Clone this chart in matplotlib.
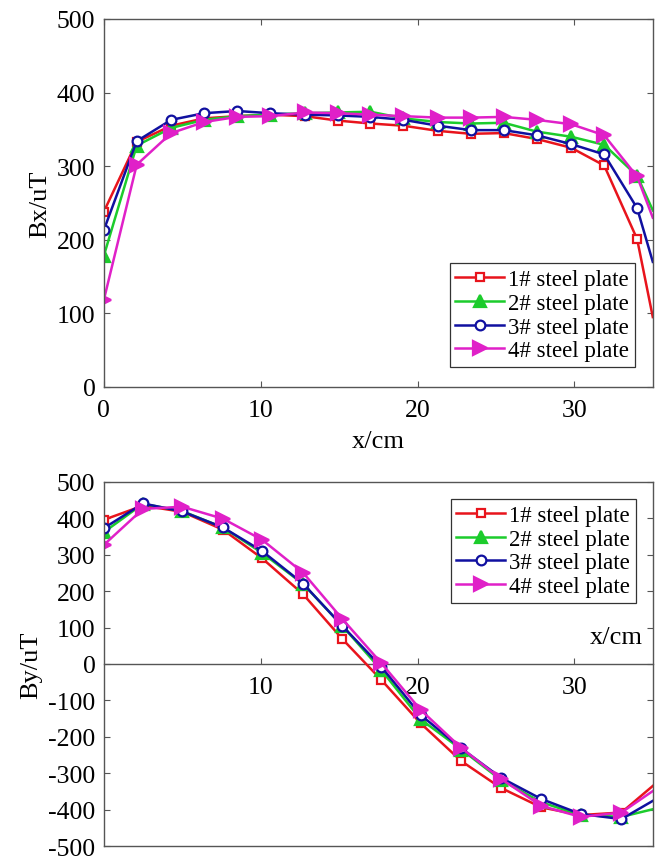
import numpy as np
import matplotlib
matplotlib.use('Agg')
import matplotlib.pyplot as plt

plt.rcParams['font.family'] = ['Liberation Serif', 'DejaVu Serif']
plt.rcParams['axes.unicode_minus'] = False

labels = ['1# steel plate', '2# steel plate', '3# steel plate', '4# steel plate']
colors = ['#e8141c', '#1ccc2c', '#1010a0', '#e020c8']
markers = ['s', '^', 'o', '>']

# Bx along the plate (markers every ~2.1 cm, last point is the curve end)
x_bx = [0, 2.1, 4.3, 6.4, 8.5, 10.6, 12.8, 14.9, 17.0, 19.1, 21.3, 23.4, 25.5, 27.6, 29.8, 31.9, 34.0, 35.0]
bx_1 = [238, 333, 355, 365, 368, 370, 368, 362, 358, 355, 348, 344, 345, 337, 325, 301, 201, 95]
bx_2 = [178, 328, 352, 363, 368, 370, 372, 373, 374, 365, 360, 358, 359, 347, 340, 329, 287, 240]
bx_3 = [213, 334, 363, 372, 375, 372, 370, 369, 367, 363, 355, 349, 349, 342, 330, 316, 243, 170]
bx_4 = [118, 302, 345, 360, 367, 368, 373, 372, 370, 368, 366, 366, 367, 363, 357, 342, 286, 230]

# By along the plate (markers every ~2.5 cm)
x_by = [0, 2.5, 5.0, 7.6, 10.1, 12.7, 15.2, 17.7, 20.2, 22.8, 25.3, 27.9, 30.4, 33.0, 35.0]
by_1 = [396, 435, 418, 369, 290, 192, 69, -44, -163, -267, -340, -394, -415, -408, -335]
by_2 = [362, 440, 420, 375, 305, 220, 105, -17, -152, -235, -318, -380, -415, -420, -399]
by_3 = [373, 441, 419, 375, 310, 221, 105, -8, -140, -232, -312, -371, -412, -426, -376]
by_4 = [327, 426, 432, 399, 341, 251, 124, 2, -126, -231, -315, -390, -420, -408, -349]

bx_all = [bx_1, bx_2, bx_3, bx_4]
by_all = [by_1, by_2, by_3, by_4]
msizes = [5.5, 8.5, 7, 9.5]
mfaces = ['white', None, 'white', None]

fig = plt.figure(figsize=(6.61, 8.62), dpi=100)
ax1 = fig.add_axes([0.157, 0.5499, 0.8306, 0.4269])
ax2 = fig.add_axes([0.157, 0.0174, 0.8306, 0.4223])

spine_col = '#555555'


def draw_lines(ax, x, ys):
    n = len(x)
    for y, c, m, ms, fc, lab in zip(ys, colors, markers, msizes, mfaces, labels):
        ax.plot(x, y, color=c, lw=1.8, marker=m, ms=ms, mew=1.6,
                mfc=fc if fc else c, mec=c, markevery=list(range(n - 1)), label=lab)


# top panel
draw_lines(ax1, x_bx, bx_all)
ax1.set_xlim(0, 35)
ax1.set_ylim(0, 500)
ax1.set_xticks([0, 10, 20, 30])
ax1.set_yticks([0, 100, 200, 300, 400, 500])
ax1.tick_params(direction='in', length=4, width=0.8, color=spine_col,
                top=True, right=True, labelsize=18.5, pad=9)
ax1.tick_params(axis='y', pad=6)
ax1.set_xlabel('x/cm', fontsize=19, labelpad=6)
ax1.set_ylabel('Bx/uT', fontsize=19, labelpad=4)
for s in ax1.spines.values():
    s.set_color(spine_col)
    s.set_linewidth(1.0)
leg1 = ax1.legend(loc='lower right', bbox_to_anchor=(0.9672, 0.054), fontsize=16.5,
                  handlelength=2.1, handletextpad=0.2, labelspacing=0.12,
                  borderpad=0.25, borderaxespad=0, fancybox=False, framealpha=1)
leg1.get_frame().set_edgecolor('#333333')
leg1.get_frame().set_linewidth(0.9)

# bottom panel
draw_lines(ax2, x_by, by_all)
ax2.set_xlim(0, 35)
ax2.set_ylim(-500, 500)
ax2.set_yticks(np.arange(-500, 501, 100))
ax2.set_xticks([])
ax2.tick_params(axis='y', direction='in', length=4, width=0.8, color=spine_col,
                right=True, labelsize=18.5, pad=6)
ax2.set_ylabel('By/uT', fontsize=19, labelpad=4)
for s in ax2.spines.values():
    s.set_color(spine_col)
    s.set_linewidth(1.0)

xax = ax2.secondary_xaxis(0.5)
xax.set_alignment('bottom')
xax.set_xticks([10, 20, 30])
xax.tick_params(direction='in', length=4, width=0.8, color=spine_col, labelsize=18.5, pad=9)
xax.spines['bottom'].set_color(spine_col)
xax.spines['bottom'].set_linewidth(1.0)
ax2.text(0.982, 0.573, 'x/cm', transform=ax2.transAxes, ha='right', va='center',
         fontsize=19, bbox=dict(facecolor='white', edgecolor='none', pad=1))

leg2 = ax2.legend(loc='upper right', bbox_to_anchor=(0.9690, 0.953), fontsize=16.5,
                  handlelength=2.1, handletextpad=0.2, labelspacing=0.12,
                  borderpad=0.25, borderaxespad=0, fancybox=False, framealpha=1)
leg2.get_frame().set_edgecolor('#333333')
leg2.get_frame().set_linewidth(0.9)

fig.savefig('out.png', dpi=100)
